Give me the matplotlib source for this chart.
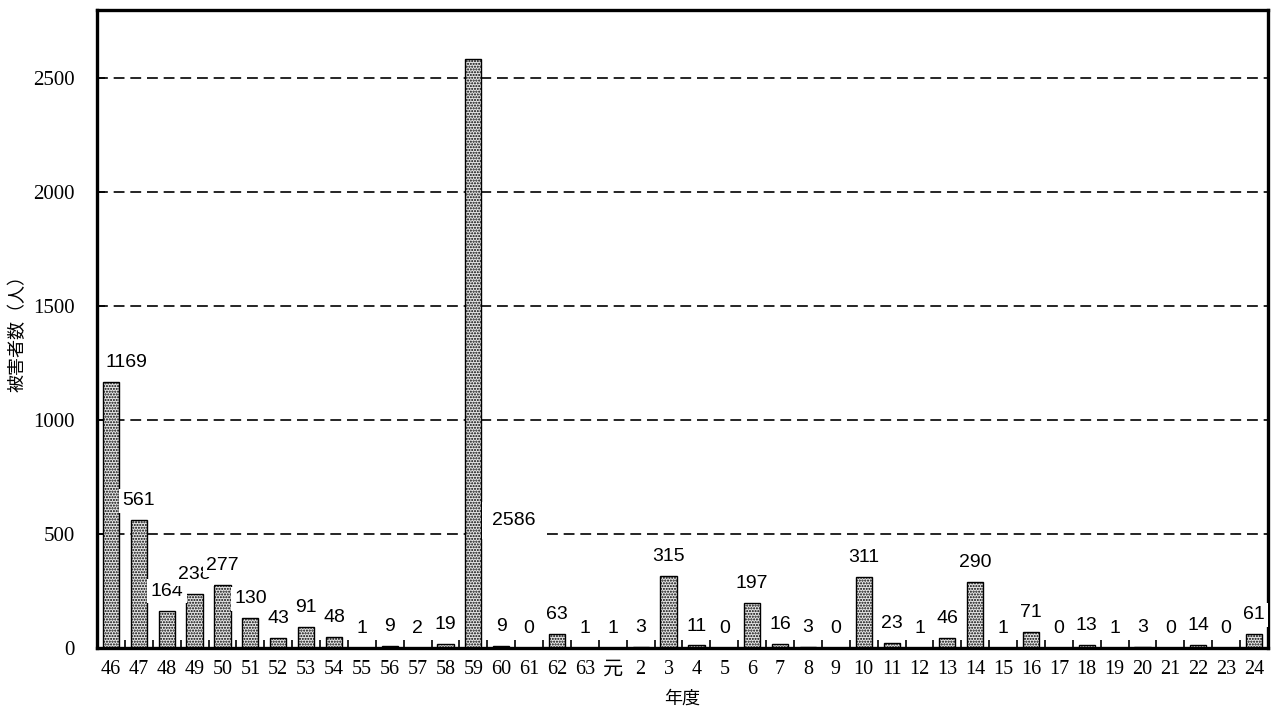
import numpy as np
import matplotlib.pyplot as plt
from matplotlib.ticker import FixedLocator, NullFormatter

plt.rcParams["font.family"] = ["Liberation Serif", "Noto Sans CJK JP"]
plt.rcParams["hatch.linewidth"] = 1.0

# 年度 (昭和46 ... 63, 平成元 ... 24)
years = ["46", "47", "48", "49", "50", "51", "52", "53", "54", "55",
         "56", "57", "58", "59", "60", "61", "62", "63", "元", "2",
         "3", "4", "5", "6", "7", "8", "9", "10", "11", "12",
         "13", "14", "15", "16", "17", "18", "19", "20", "21", "22",
         "23", "24"]
victims = [1169, 561, 164, 238, 277, 130, 43, 91, 48, 1,
           9, 2, 19, 2586, 9, 0, 63, 1, 1, 3,
           315, 11, 0, 197, 16, 3, 0, 311, 23, 1,
           46, 290, 1, 71, 0, 13, 1, 3, 0, 14,
           0, 61]

fig = plt.figure(figsize=(12.76, 7.11), dpi=100)
ax = fig.add_axes([97/1276, 63/711, 1171/1276, 638/711])

x = np.arange(len(years))
ax.bar(x, victims, width=0.58, facecolor="#e6e6e6", edgecolor="black",
       linewidth=1.0, hatch="......", zorder=2)

ax.set_xlim(-0.5, len(years) - 0.5)
ax.set_ylim(0, 2800)
ax.set_yticks([0, 500, 1000, 1500, 2000, 2500])
ax.yaxis.grid(True, linestyle=(0, (6.5, 3.5)), color="black", linewidth=1.2, zorder=1)
ax.set_axisbelow(True)

# x ticks: labels at centre, small inward marks between categories
ax.set_xticks(x)
ax.set_xticklabels(years)
ax.xaxis.set_minor_locator(FixedLocator(np.arange(0.5, len(years) - 1, 1.0)))
ax.xaxis.set_minor_formatter(NullFormatter())
ax.tick_params(axis="x", which="major", length=0, pad=9, labelsize=14.5)
ax.tick_params(axis="x", which="minor", direction="in", length=6, width=1.2)
ax.tick_params(axis="y", direction="in", length=6, width=1.2, pad=16, labelsize=15)

for s in ax.spines.values():
    s.set_linewidth(2.4)

# data labels
for i, v in enumerate(victims):
    dx, dy = 0, 14
    yy = v
    pad = 2.5
    if years[i] == "46":
        dx = 11
    elif years[i] == "59":
        yy = 560
        dx = 29
        dy = 0
        pad = 7
    ax.annotate(str(v), (i, yy), xytext=(dx, dy), textcoords="offset points",
                ha="center", va="center", fontsize=14,
                family=["Liberation Sans", "DejaVu Sans"],
                bbox=dict(facecolor="white", edgecolor="none", pad=pad),
                zorder=10, annotation_clip=False)

ax.set_xlabel("年度", family=["Noto Sans CJK JP"], fontsize=13, labelpad=7)
ax.set_ylabel("被害者数（人）", family=["Noto Sans CJK JP"], fontsize=13, labelpad=5)

fig.savefig("out.png", dpi=100)
